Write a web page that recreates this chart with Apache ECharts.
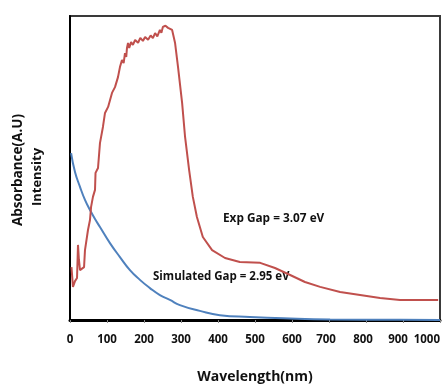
<!DOCTYPE html>
<html>
<head>
<meta charset="utf-8">
<script src="https://cdn.jsdelivr.net/npm/echarts@6/dist/echarts.min.js"></script>
<style>
html,body{margin:0;padding:0;background:#fff;}
#chart{width:448px;height:385px;}
</style>
</head>
<body>
<div id="chart"></div>
<script>
// Wavelength ticks
const xTicks = [0, 100, 200, 300, 400, 500, 600, 700, 800, 900, 1000];

// Experimental absorbance (red), [wavelength, intensity]
const expWave = [4, 8, 13.5, 19, 21.6, 24, 27, 32, 38, 40.5, 48.6, 54, 57, 62, 67.6, 69, 75.7, 81, 89, 94.6, 103, 113.5, 121.6, 129.7, 135, 140.5, 145, 148.6, 152, 154, 156.8, 160, 165, 170, 176, 184, 190, 197, 203, 211, 218, 224, 230, 236, 243, 247, 251, 258, 265, 270, 276, 284, 292, 303, 311, 322, 332, 343, 359, 384, 419, 459, 514, 554, 595, 635, 676, 730, 784, 838, 892, 932, 995];
const expAbs  = [17.4, 10.9, 12.8, 13.8, 24.7, 20, 16.4, 15.8, 17.4, 23, 29.6, 32.9, 37.2, 40.5, 42.8, 48.4, 50, 58.2, 63.5, 68.1, 70.1, 74.7, 76.6, 79.9, 83.2, 85.5, 84.5, 87.8, 86.5, 89.5, 91.1, 89.5, 91.4, 90.5, 92.1, 91.2, 92.8, 91.8, 93.1, 92.2, 93.6, 92.7, 94.4, 93.3, 95.4, 94.5, 96.4, 96.8, 96.1, 96.6, 95.4, 91.1, 83.2, 71.4, 60.2, 49.3, 40.5, 33.9, 27.3, 23, 20.4, 19.1, 18.8, 17.1, 14.8, 12.5, 10.9, 9.2, 8.2, 7.2, 6.6, 6.6, 6.6];

// Simulated absorbance (blue)
const simWave = [3, 13.5, 27, 40.5, 54, 67.6, 81, 108, 135, 162, 189, 216, 243, 270, 297, 351, 405, 486, 595, 703, 892, 1000];
const simAbs  = [54.9, 48.7, 43.8, 39.5, 36.2, 33.2, 30.6, 25.3, 20.7, 16.4, 13.2, 10.5, 8.2, 6.6, 4.9, 3.0, 1.6, 1.0, 0.5, 0.2, 0.05, 0.0];

const expLabel = 'Exp Gap = 3.07 eV';
const simLabel = 'Simulated Gap = 2.95 eV';

const chart = echarts.init(document.getElementById('chart'));
const FONT = 'Open Sans';
const tickStyle = { fontFamily: FONT, fontWeight: 'bold', fontSize: 11.5, color: '#111' };
chart.setOption({
  animation: false,
  backgroundColor: '#fff',
  grid: { left: 70, right: 8, top: 16, bottom: 65, show: true, borderColor: '#3a3a3a', borderWidth: 2,
          containLabel: false, outerBoundsMode: 'none' },
  xAxis: {
    type: 'value', min: 0, max: 1000, interval: 100,
    name: 'Wavelength(nm)', nameLocation: 'middle', nameGap: 50,
    nameTextStyle: { fontFamily: FONT, fontWeight: 'bold', fontSize: 14, color: '#111' },
    axisLine: { show: true, onZero: false, lineStyle: { color: '#000', width: 3 } },
    axisTick: { show: true, length: 3, lineStyle: { color: '#888', width: 1 } },
    axisLabel: { margin: 14, fontFamily: FONT, fontWeight: 'bold', fontSize: 11.5, color: '#111',
      alignMaxLabel: 'right',
      rich: {
        sl: Object.assign({ padding: [0, 10, 0, 0] }, tickStyle),
        sm: Object.assign({ padding: [0, 6, 0, 0] }, tickStyle)
      },
      formatter: v => {
        if (!xTicks.includes(v)) return '';
        if (v === 900) return '{sl|' + v + '}';
        if (v === 800 || v === 700) return '{sm|' + v + '}';
        return String(v);
      } },
    splitLine: { show: false }
  },
  yAxis: {
    type: 'value', min: 0, max: 100,
    axisLine: { show: true, lineStyle: { color: '#000', width: 2 } },
    axisTick: { show: false }, axisLabel: { show: false }, splitLine: { show: false }
  },
  graphic: [
    { type: 'text', left: 223, top: 213, style: { text: expLabel, font: 'bold 11.8px "Open Sans"', fill: '#111' } },
    { type: 'text', left: 153, top: 271, style: { text: simLabel, font: 'bold 11.5px "Open Sans"', fill: '#111' } },
    { type: 'text', x: 18, y: 170, rotation: Math.PI / 2, style: { text: 'Absorbance(A.U)', font: 'bold 13.5px "Open Sans"', fill: '#111', align: 'center', verticalAlign: 'middle' } },
    { type: 'text', x: 37, y: 177, rotation: Math.PI / 2, style: { text: 'Intensity', font: 'bold 13px "Open Sans"', fill: '#111', align: 'center', verticalAlign: 'middle' } }
  ],
  series: [
    { type: 'line', data: simWave.map((w, i) => [w, simAbs[i]]), smooth: true, showSymbol: false,
      lineStyle: { color: '#4f81bd', width: 2 }, z: 3 },
    { type: 'line', data: expWave.map((w, i) => [w, expAbs[i]]), smooth: false, showSymbol: false,
      lineStyle: { color: '#c0504d', width: 2 }, z: 4 }
  ]
});
</script>
</body>
</html>
